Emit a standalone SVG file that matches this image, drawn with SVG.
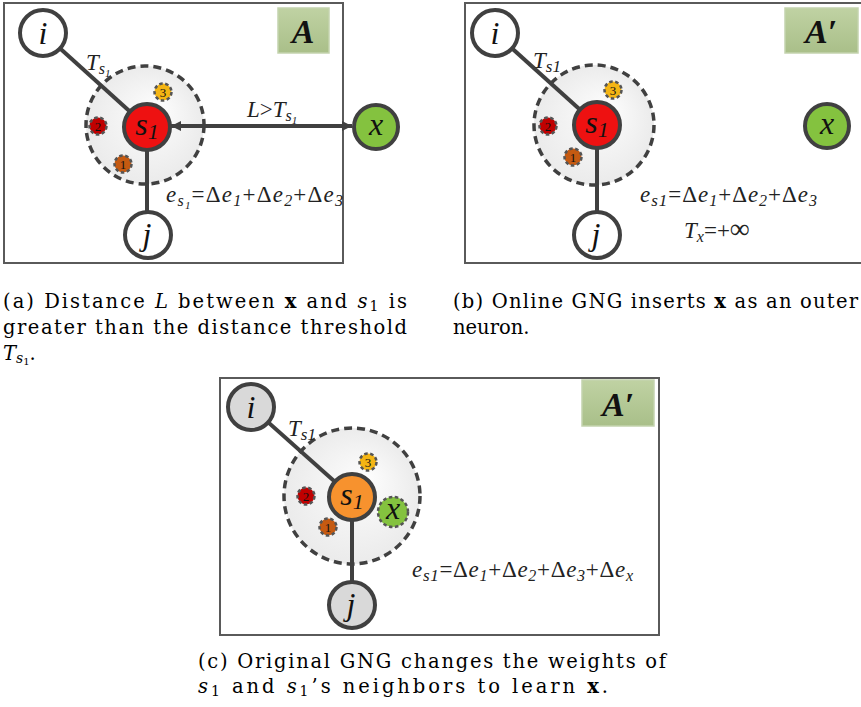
<svg xmlns="http://www.w3.org/2000/svg" width="861" height="707" viewBox="0 0 861 707">
<defs>
<style>
.frame{fill:#ffffff;stroke:#5a5a5a;stroke-width:2}
.lbl{fill:url(#lblg);stroke:#c4d3ae;stroke-width:1.5}
.lbltx{font-family:'Liberation Serif','Times New Roman',Times,serif;font-style:italic;font-weight:bold;font-size:34px;fill:#111;text-anchor:middle}
.halo{fill:url(#halo);stroke:#404040;stroke-width:3.5;stroke-dasharray:8 5}
.edge{stroke:#404040;stroke-width:4;fill:none}
.node{stroke:#404040;stroke-width:4}
.small{stroke:#555;stroke-width:2.5;stroke-dasharray:3.5 2.5}
.nt{font-family:'Liberation Serif','Times New Roman',Times,serif;font-style:italic;font-size:32px;fill:#111;text-anchor:middle}
.st{font-family:'Liberation Serif','Times New Roman',Times,serif;font-size:13px;fill:#111;text-anchor:middle}
.m{font-family:'Liberation Serif','Times New Roman',Times,serif;font-style:italic;font-size:23px;fill:#222}
.up{font-style:normal}
.cap{font-family:'DejaVu Serif',serif;font-size:19.5px;fill:#000}
.it{font-style:italic}
.bf{font-weight:bold}
</style>
<radialGradient id="halo" cx="0.5" cy="0.5" r="0.5" fx="0.62" fy="0.35">
<stop offset="0" stop-color="#fdfdfd"/>
<stop offset="1" stop-color="#ebebeb"/>
</radialGradient>
<linearGradient id="lblg" x1="0" y1="0" x2="0" y2="1">
<stop offset="0" stop-color="#c0d2a3"/>
<stop offset="1" stop-color="#a9bf89"/>
</linearGradient>
<marker id="ah" viewBox="0 0 10 10" refX="10" refY="5" markerWidth="11" markerHeight="10" markerUnits="userSpaceOnUse" orient="auto-start-reverse">
<path d="M0,0 L10,5 L0,10 z" fill="#404040"/>
</marker>
</defs>

<!-- Panel A -->
<g id="panelA">
<rect class="frame" x="4" y="3" width="339" height="260"/>
<rect class="lbl" x="278" y="8" width="51" height="45"/>
<text class="lbltx" x="303" y="43">A</text>
<circle class="halo" cx="145" cy="125" r="59"/>
</g>
<g id="connectorsA">
<line class="edge" x1="43" y1="33" x2="147" y2="127"/>
<line class="edge" x1="147" y1="127" x2="147" y2="235"/>
<line class="edge" x1="171" y1="126" x2="352" y2="126" marker-start="url(#ah)" marker-end="url(#ah)"/>
</g>
<g id="labelsA">
<text class="m" x="86" y="70">T<tspan font-size="16" dy="4">s</tspan><tspan font-size="11" dy="3">1</tspan></text>
<text class="m" x="247" y="117">L<tspan class="up">&gt;</tspan>T<tspan font-size="16" dy="4">s</tspan><tspan font-size="11" dy="3">1</tspan></text>
<text class="m" x="166" y="202" textLength="177" lengthAdjust="spacing">e<tspan font-size="16" dy="4">s</tspan><tspan font-size="11" dy="3">1</tspan><tspan class="up" dy="-7">=Δ</tspan>e<tspan font-size="16" dy="4">1</tspan><tspan class="up" dy="-4">+Δ</tspan>e<tspan font-size="16" dy="4">2</tspan><tspan class="up" dy="-4">+Δ</tspan>e<tspan font-size="16" dy="4">3</tspan></text>
</g>
<g id="A_n3"><circle class="small" cx="163" cy="92" r="8.5" fill="#f4b514"/><text class="st" x="163" y="97">3</text></g>
<g id="A_n2"><circle class="small" cx="98" cy="126" r="8.5" fill="#c00000"/><text class="st" x="98" y="131">2</text></g>
<g id="A_n1"><circle class="small" cx="123" cy="164" r="8.5" fill="#c55a11"/><text class="st" x="123" y="169">1</text></g>
<g id="A_i"><circle class="node" cx="43" cy="33" r="23" fill="#ffffff"/><text class="nt" x="43" y="44">i</text></g>
<g id="A_j"><circle class="node" cx="148" cy="235" r="23" fill="#ffffff"/><text class="nt" x="147" y="245">j</text></g>
<g id="A_s1"><circle class="node" cx="147" cy="127" r="23" fill="#ee1111"/><text class="nt" x="147" y="135" font-size="32">s<tspan font-size="22" dy="4">1</tspan></text></g>
<g id="A_x"><circle class="node" cx="376" cy="127" r="22" fill="#84c23f"/><text class="nt" x="376" y="135">x</text></g>

<!-- Panel B -->
<g id="panelB">
<rect class="frame" x="465" y="3" width="420" height="260"/>
<rect class="lbl" x="785" y="8" width="73" height="45"/>
<text class="lbltx" x="821" y="43">A′</text>
<circle class="halo" cx="594" cy="125" r="60"/>
</g>
<g id="connectorsB">
<line class="edge" x1="495" y1="33" x2="597" y2="125"/>
<line class="edge" x1="597" y1="125" x2="597" y2="235"/>
</g>
<g id="labelsB">
<text class="m" x="533" y="68">T<tspan font-size="17" dy="4">s1</tspan></text>
<text class="m" x="640" y="202" textLength="177" lengthAdjust="spacing">e<tspan font-size="17" dy="4">s1</tspan><tspan class="up" dy="-4">=Δ</tspan>e<tspan font-size="16" dy="4">1</tspan><tspan class="up" dy="-4">+Δ</tspan>e<tspan font-size="16" dy="4">2</tspan><tspan class="up" dy="-4">+Δ</tspan>e<tspan font-size="16" dy="4">3</tspan></text>
<text class="m" x="684" y="238" font-size="24">T<tspan font-size="16" dy="4">x</tspan><tspan class="up" dy="-4">=+</tspan><tspan class="up" font-size="28">∞</tspan></text>
</g>
<g id="B_n3"><circle class="small" cx="613" cy="90" r="8.5" fill="#f4b514"/><text class="st" x="613" y="95">3</text></g>
<g id="B_n2"><circle class="small" cx="548" cy="126" r="8.5" fill="#c00000"/><text class="st" x="548" y="131">2</text></g>
<g id="B_n1"><circle class="small" cx="573" cy="157" r="8.5" fill="#c55a11"/><text class="st" x="573" y="162">1</text></g>
<g id="B_i"><circle class="node" cx="495" cy="33" r="23" fill="#ffffff"/><text class="nt" x="495" y="44">i</text></g>
<g id="B_j"><circle class="node" cx="597" cy="235" r="23" fill="#ffffff"/><text class="nt" x="596" y="245">j</text></g>
<g id="B_s1"><circle class="node" cx="597" cy="125" r="23" fill="#ee1111"/><text class="nt" x="597" y="133" font-size="32">s<tspan font-size="22" dy="4">1</tspan></text></g>
<g id="B_x"><circle class="node" cx="827" cy="126" r="22" fill="#84c23f"/><text class="nt" x="827" y="134">x</text></g>

<!-- Panel C -->
<g id="panelC">
<rect class="frame" x="220" y="378" width="439" height="257"/>
<rect class="lbl" x="582" y="380" width="72" height="46"/>
<text class="lbltx" x="618" y="416">A′</text>
<circle class="halo" cx="352" cy="496" r="68"/>
</g>
<g id="connectorsC">
<line class="edge" x1="251" y1="407" x2="352" y2="497"/>
<line class="edge" x1="352" y1="497" x2="352" y2="605"/>
</g>
<g id="labelsC">
<text class="m" x="288" y="436">T<tspan font-size="17" dy="4">s1</tspan></text>
<text class="m" x="412" y="577" textLength="221" lengthAdjust="spacing">e<tspan font-size="17" dy="4">s1</tspan><tspan class="up" dy="-4">=Δ</tspan>e<tspan font-size="16" dy="4">1</tspan><tspan class="up" dy="-4">+Δ</tspan>e<tspan font-size="16" dy="4">2</tspan><tspan class="up" dy="-4">+Δ</tspan>e<tspan font-size="16" dy="4">3</tspan><tspan class="up" dy="-4">+Δ</tspan>e<tspan font-size="16" dy="4">x</tspan></text>
</g>
<g id="C_n3"><circle class="small" cx="368" cy="462" r="8.5" fill="#f4b514"/><text class="st" x="368" y="467">3</text></g>
<g id="C_n2"><circle class="small" cx="306" cy="496" r="8.5" fill="#c00000"/><text class="st" x="306" y="501">2</text></g>
<g id="C_n1"><circle class="small" cx="328" cy="527" r="8.5" fill="#c55a11"/><text class="st" x="328" y="532">1</text></g>
<g id="C_x"><circle class="small" cx="393" cy="512" r="15" fill="#84c23f" stroke-width="3.5" stroke-dasharray="6 3"/><text class="nt" x="393" y="519" font-size="23">x</text></g>
<g id="C_i"><circle class="node" cx="251" cy="407" r="23" fill="#d9d9d9"/><text class="nt" x="251" y="418">i</text></g>
<g id="C_j"><circle class="node" cx="352" cy="605" r="23" fill="#d9d9d9"/><text class="nt" x="351" y="615">j</text></g>
<g id="C_s1"><circle class="node" cx="352" cy="497" r="23" fill="#f7922e"/><text class="nt" x="352" y="505" font-size="32">s<tspan font-size="22" dy="4">1</tspan></text></g>

<!-- Captions -->
<g id="captions">
<text class="cap" x="3" y="308" textLength="404" lengthAdjust="spacing">(a) Distance <tspan class="it">L</tspan> between <tspan class="bf">x</tspan> and <tspan class="it">s</tspan><tspan font-size="14" dy="3">1</tspan><tspan dy="-3"> is</tspan></text>
<text class="cap" x="3" y="334" textLength="404" lengthAdjust="spacing">greater than the distance threshold</text>
<text class="cap" x="3" y="360"><tspan class="it">T</tspan><tspan class="it" font-size="14" dy="3">s</tspan><tspan font-size="10" dy="2">1</tspan><tspan dy="-5">.</tspan></text>
<text class="cap" x="453" y="308" textLength="405" lengthAdjust="spacing">(b) Online GNG inserts <tspan class="bf">x</tspan> as an outer</text>
<text class="cap" x="453" y="334">neuron.</text>
<text class="cap" x="198" y="668" textLength="468" lengthAdjust="spacing">(c) Original GNG changes the weights of</text>
<text class="cap" x="198" y="693" textLength="410" lengthAdjust="spacing"><tspan class="it">s</tspan><tspan font-size="14" dy="3">1</tspan><tspan dy="-3"> and </tspan><tspan class="it">s</tspan><tspan font-size="14" dy="3">1</tspan><tspan dy="-3">’s neighbors to learn </tspan><tspan class="bf">x</tspan>.</text>
</g>
</svg>
